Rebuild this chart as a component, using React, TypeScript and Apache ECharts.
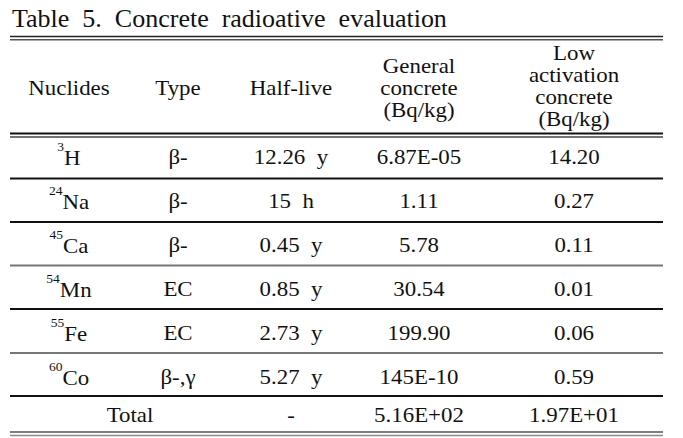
import React, { useEffect, useRef } from "react";
import * as echarts from "echarts";

const titleText = "Table  5.  Concrete  radioative  evaluation";
const headerNuclides = ["Nuclides"];
const headerType = ["Type"];
const headerHalf = ["Half-live"];
const headerGeneral = ["General", "concrete", "(Bq/kg)"];
const headerLow = ["Low", "activation", "concrete", "(Bq/kg)"];
const nuclideMass = ["3", "24", "45", "54", "55", "60"];
const nuclideSymbol = ["H", "Na", "Ca", "Mn", "Fe", "Co"];
const decayTypes = ["β-", "β-", "β-", "EC", "EC", "β-,γ"];
const halfLives = ["12.26  y", "15  h", "0.45  y", "0.85  y", "2.73  y", "5.27  y"];
const generalConcrete = ["6.87E-05", "1.11", "5.78", "30.54", "199.90", "145E-10"];
const lowActivation = ["14.20", "0.27", "0.11", "0.01", "0.06", "0.59"];
const totalLabel = "Total";
const totalRow = ["-", "5.16E+02", "1.97E+01"];

const FAMILY = "Liberation Serif";

export default function App() {
  const ref = useRef<HTMLDivElement>(null);
  useEffect(() => {
    if (!ref.current) return;
    const chart = echarts.init(ref.current, null, { renderer: "svg" });
    const SX = 1.04;
    const FS = 22;
    const SUP = 13;
    const colX = [69, 178, 291, 419, 574];
    const rowY = [157, 201, 245, 289, 333, 377];
    const totalY = 415;
    const left = 10;
    const right = 663;
    const canvas = document.createElement("canvas");
    const ctx = canvas.getContext("2d")!;
    const measure = (t: string, size: number) => {
      ctx.font = `${size}px "${FAMILY}"`;
      return ctx.measureText(t).width * SX;
    };
    const txt = (t: string, x: number, y: number, align = "center", size = FS, sx = SX): any => ({
      type: "text",
      x,
      y,
      scaleX: sx,
      style: {
        text: t,
        fill: "#111",
        fontFamily: FAMILY,
        fontSize: size,
        textAlign: align,
        textVerticalAlign: "middle",
      },
    });
    const hline = (y: number, color: string, w: number): any => ({
      type: "line",
      shape: { x1: left, y1: y, x2: right, y2: y },
      style: { stroke: color, lineWidth: w },
    });
    const els: any[] = [];
    els.push(txt(titleText, 12, 19, "left", 25, 1.04));
    els.push(hline(36.5, "#222", 1.6));
    els.push(hline(39.8, "#555", 1.4));
    els.push(hline(133.5, "#111", 1.8));
    els.push(hline(137, "#444", 1.4));
    els.push(txt(headerNuclides[0], colX[0], 88));
    els.push(txt(headerType[0], colX[1], 88));
    els.push(txt(headerHalf[0], colX[2], 88));
    headerGeneral.forEach((t, i) => els.push(txt(t, colX[3], 66 + i * 22)));
    headerLow.forEach((t, i) => els.push(txt(t, colX[4], 53 + i * 22)));
    const rowLines = [178.5, 222, 265.5, 309, 353, 396];
    const rowColors = ["#111", "#111", "#777", "#111", "#777", "#111"];
    rowLines.forEach((y, i) => els.push(hline(y, rowColors[i], 1.8)));
    els.push(hline(432, "#555", 1.4));
    els.push(hline(435.5, "#888", 1.4));
    rowY.forEach((y, i) => {
      const sw = measure(nuclideMass[i], SUP);
      const mw = measure(nuclideSymbol[i], FS);
      const start = colX[0] - (sw + mw) / 2;
      els.push(txt(nuclideMass[i], start, y - 10, "left", SUP));
      els.push(txt(nuclideSymbol[i], start + sw, y + 1, "left", FS));
      els.push(txt(decayTypes[i], colX[1], y));
      els.push(txt(halfLives[i], colX[2], y));
      els.push(txt(generalConcrete[i], colX[3], y));
      els.push(txt(lowActivation[i], colX[4], y));
    });
    els.push(txt(totalLabel, 130, totalY));
    els.push(txt(totalRow[0], colX[2], totalY));
    els.push(txt(totalRow[1], colX[3], totalY));
    els.push(txt(totalRow[2], colX[4], totalY));
    chart.setOption({
      animation: false,
      backgroundColor: "#fff",
      graphic: { elements: els },
    });
    return () => chart.dispose();
  }, []);
  return (
    <div
      ref={ref}
      style={{ position: "absolute", left: 0, top: 0, width: 683, height: 438 }}
    />
  );
}
